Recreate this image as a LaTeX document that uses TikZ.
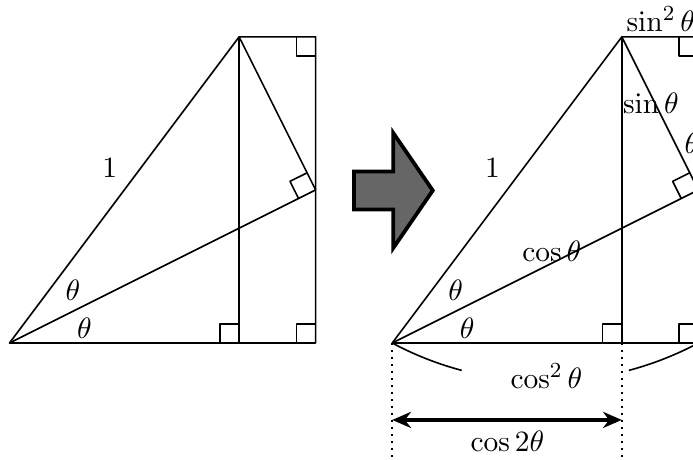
\documentclass[tikz,border=0pt]{standalone}
\usetikzlibrary{arrows.meta}
\begin{document}
\begin{tikzpicture}[x=5cm, y=5cm, line width=0.6pt, line join=round,
    every node/.append style={font=\fontsize{10.8}{13}\selectfont, inner sep=0pt},
    dimline/.style={line width=1.4pt, {Stealth[length=7pt,width=6pt]}-{Stealth[length=7pt,width=6pt]}},
    blockarrow/.style={draw=black, fill=black!60, line width=1.4pt, line join=miter}]
  \useasboundingbox (-0.0248,-0.3031) rectangle (1.786,0.8963);
  \clip (-0.0248,-0.3031) rectangle (1.786,0.8963);

  % the same figure twice, before and after
  \foreach \dx/\fig in {0/L,1/R}{
    \coordinate (\fig O) at (\dx,0);
    \coordinate (\fig A) at (\dx+0.6,0.8);
    \coordinate (\fig F) at (\dx+0.6,0);
    \coordinate (\fig B) at (\dx+0.8,0);
    \coordinate (\fig C) at (\dx+0.8,0.8);
    \coordinate (\fig P) at (\dx+0.8,0.4);
    \draw (\fig O) -- (\fig B) -- (\fig C) -- (\fig A) -- cycle;
    \draw (\fig A) -- (\fig F);
    \draw (\fig O) -- (\fig P) -- (\fig A);
    % right angles
    \draw (\dx+0.55,0) -- (\dx+0.55,0.05) -- (\dx+0.6,0.05);
    \draw (\dx+0.75,0) -- (\dx+0.75,0.05) -- (\dx+0.8,0.05);
    \draw (\dx+0.75,0.8) -- (\dx+0.75,0.75) -- (\dx+0.8,0.75);
    \draw (\dx+0.7776,0.4447) -- (\dx+0.7329,0.4224) -- (\dx+0.7553,0.3776);
    \node (\fig one) at (\dx+0.262,0.456) {$1$};
    \node (\fig up) at (\dx+0.166,0.137) {$\theta$};
    \node (\fig low) at (\dx+0.196,0.039) {$\theta$};
  }

  % block arrow
  \draw[blockarrow] (0.900,0.3488) -- (1.003,0.3488) -- (1.003,0.2485) -- (1.106,0.3985)
    -- (1.003,0.5485) -- (1.003,0.4482) -- (0.900,0.4482) -- cycle;

  % labels of the right figure
  \node (costh) at (1.417,0.239) {$\cos\theta$};
  \node (sinth) at (1.676,0.626) {$\sin\theta$};
  \node (thP) at (1.783,0.523) {$\theta$};
  \node (sinsq) at (1.702,0.846) {$\sin^2\theta$};
  \node (cossq) at (1.403,-0.086) {$\cos^2\theta$};
  \node (cosdbl) at (1.301,-0.256) {$\cos 2\theta$};

  % brace under cos^2
  \draw (RO) arc[start angle=241.9, end angle=255.1, radius=0.849];
  \draw (RB) arc[start angle=298.1, end angle=284.9, radius=0.849];

  % cos 2theta
  \coordinate (RObot) at (1,-0.31);
  \coordinate (RFbot) at (1.6,-0.31);
  \draw[dotted] (RO) -- (RObot);
  \draw[dotted] (RF) -- (RFbot);
  \coordinate (arrL) at (1,-0.201);
  \coordinate (arrR) at (1.6,-0.201);
  \draw[dimline] (arrL) -- (arrR);
\end{tikzpicture}
\end{document}
